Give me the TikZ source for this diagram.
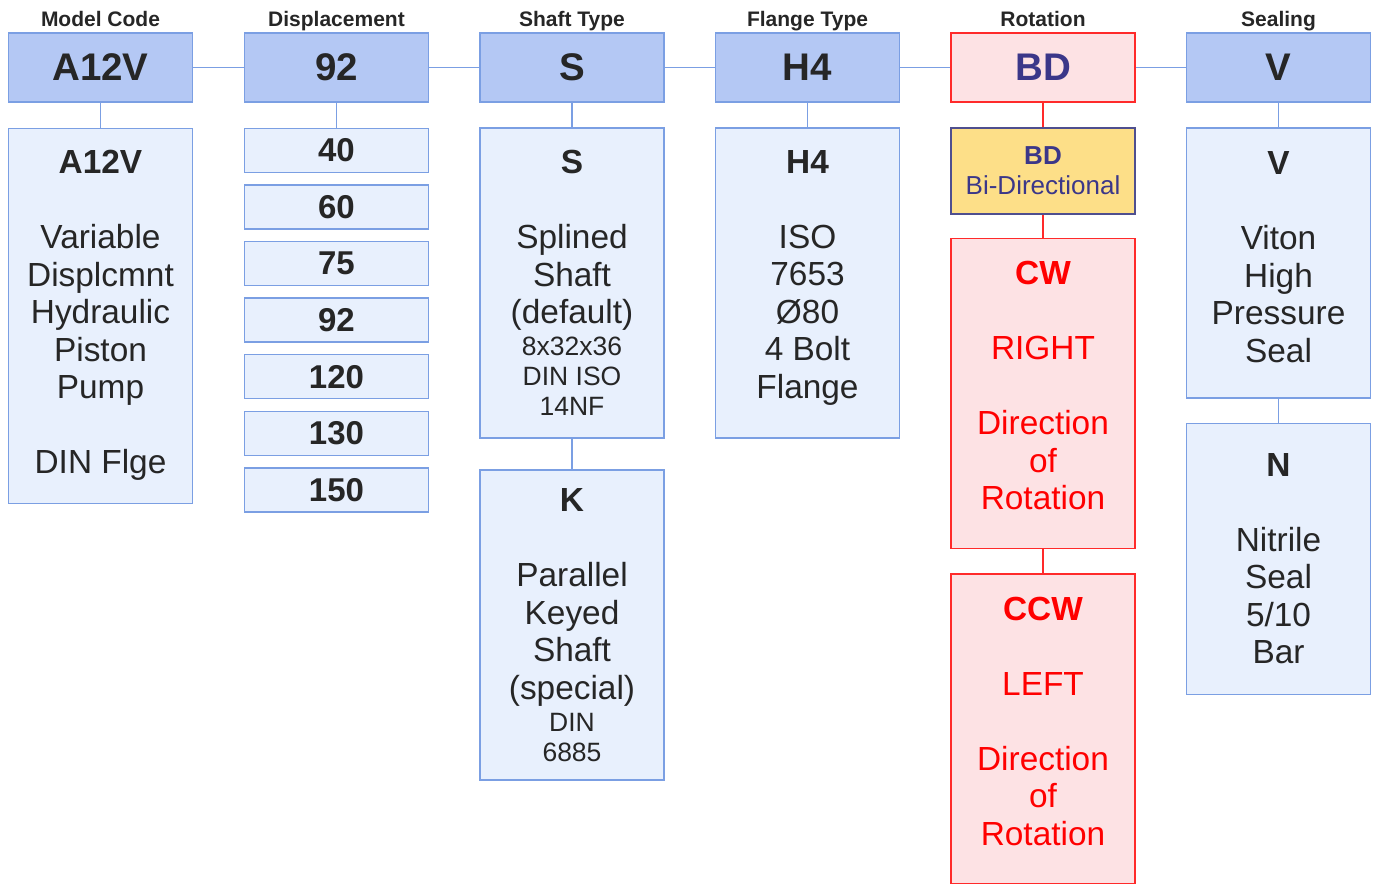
\documentclass[tikz,border=0pt]{standalone}
\usepackage{fontspec}
\setmainfont{Liberation Sans}
\definecolor{bblue}{HTML}{7B9FE3}
\definecolor{hfill}{HTML}{B4C8F4}
\definecolor{dfill}{HTML}{E8F0FD}
\definecolor{rline}{HTML}{FF2A2A}
\definecolor{rfill}{HTML}{FDE2E4}
\definecolor{rtext}{HTML}{FF0000}
\definecolor{tdark}{HTML}{262626}
\definecolor{bdblue}{HTML}{3B3789}
\definecolor{yfill}{HTML}{FDDF88}
\definecolor{yline}{HTML}{4F4F8F}
\newcommand{\sm}{\fontsize{26.5}{30}\selectfont}
\tikzset{
  hdr/.style={draw=bblue, fill=hfill, line width=1.5pt, minimum width=184pt, minimum height=69pt, inner sep=0pt, font=\fontsize{38.5}{44}\selectfont\bfseries, text=tdark},
  det/.style={draw=bblue, fill=dfill, line width=1.5pt, minimum width=184pt, inner sep=0pt, align=center, font=\fontsize{33.4}{37.5}\selectfont, text=tdark},
  num/.style={draw=bblue, fill=dfill, line width=1.5pt, minimum width=184pt, minimum height=44pt, inner sep=0pt, font=\fontsize{33}{37.5}\selectfont\bfseries, text=tdark},
  redbox/.style={det, draw=rline, fill=rfill, text=rtext},
  ybox/.style={draw=yline, fill=yfill, line width=1.5pt, minimum width=184pt, minimum height=86pt, inner sep=0pt, align=center, font=\fontsize{26}{30}\selectfont, text=bdblue},
  lab/.style={font=\fontsize{21}{24}\selectfont\bfseries, text=tdark, anchor=base, inner sep=0pt},
  conn/.style={draw=bblue, line width=1.5pt},
  rconn/.style={draw=rline, line width=1.5pt}
}
\begin{document}
\begin{tikzpicture}[x=1pt,y=-1pt]
\useasboundingbox (0,0) rectangle (1375,884);
% header labels
\node[lab] (l1) at (100.5,26) {Model Code};
\node[lab] (l2) at (336.5,26) {Displacement};
\node[lab] (l3) at (572,26) {Shaft Type};
\node[lab] (l4) at (807.5,26) {Flange Type};
\node[lab] (l5) at (1043,26) {Rotation};
\node[lab] (l6) at (1278.5,26) {Sealing};
% header boxes
\node[hdr] (h1) at (100.5,67.5) {A12V};
\node[hdr] (h2) at (336.5,67.5) {92};
\node[hdr] (h3) at (572,67.5) {S};
\node[hdr] (h4) at (807.5,67.5) {H4};
\node[hdr, draw=rline, fill=rfill, text=bdblue] (h5) at (1043,67.5) {BD};
\node[hdr] (h6) at (1278.5,67.5) {V};
% column 1
\node[det, minimum height=375pt] (d1) at (100.5,315.75) {{\bfseries A12V}\\[37.5pt]Variable\\Displcmnt\\Hydraulic\\Piston\\Pump\\[37.5pt]DIN Flge};
% column 2
\node[num] (n40) at (336.5,150.3) {40};
\node[num] (n60) at (336.5,206.9) {60};
\node[num] (n75) at (336.5,263.5) {75};
\node[num] (n92) at (336.5,320.1) {92};
\node[num] (n120) at (336.5,376.7) {120};
\node[num] (n130) at (336.5,433.3) {130};
\node[num] (n150) at (336.5,489.9) {150};
% column 3
\node[det, minimum height=310pt] (s) at (572,283) {{\bfseries S}\\[37.5pt]Splined\\Shaft\\(default)\\[-5.5pt]{\sm 8x32x36}\\[-7.5pt]{\sm DIN ISO}\\[-7.5pt]{\sm 14NF}};
\node[det, minimum height=310pt] (k) at (572,625) {{\bfseries K}\\[37.5pt]Parallel\\Keyed\\Shaft\\(special)\\[-5.5pt]{\sm DIN}\\[-7.5pt]{\sm 6885}};
% column 4
\node[det, minimum height=310pt, text depth=17pt] (f) at (807.5,283) {{\bfseries H4}\\[37.5pt]ISO\\7653\\Ø80\\4 Bolt\\Flange};
% column 5
\node[ybox] (bd) at (1043,171) {{\bfseries BD}\\Bi-Directional};
\node[redbox, minimum height=310pt, text depth=15pt] (cw) at (1043,393.3) {{\bfseries CW}\\[37.5pt]RIGHT\\[37.5pt]Direction\\of\\Rotation};
\node[redbox, minimum height=309.5pt, text depth=15pt] (ccw) at (1043,728.75) {{\bfseries CCW}\\[37.5pt]LEFT\\[37.5pt]Direction\\of\\Rotation};
% column 6
\node[det, minimum height=270pt, text depth=12pt] (v) at (1278.5,263.2) {{\bfseries V}\\[37.5pt]Viton\\High\\Pressure\\Seal};
\node[det, minimum height=271pt] (n) at (1278.5,558.8) {{\bfseries N}\\[37.5pt]Nitrile\\Seal\\5/10\\Bar};
% connectors
\draw[conn] (h1.east) -- (h2.west);
\draw[conn] (h2.east) -- (h3.west);
\draw[conn] (h3.east) -- (h4.west);
\draw[conn] (h4.east) -- (h5.west);
\draw[conn] (h5.east) -- (h6.west);
\draw[conn] (h1.south) -- (d1.north);
\draw[conn] (h2.south) -- (n40.north);
\draw[conn] (h3.south) -- (s.north);
\draw[conn] (s.south) -- (k.north);
\draw[conn] (h4.south) -- (f.north);
\draw[rconn] (h5.south) -- (bd.north);
\draw[rconn] (bd.south) -- (cw.north);
\draw[rconn] (cw.south) -- (ccw.north);
\draw[conn] (h6.south) -- (v.north);
\draw[conn] (v.south) -- (n.north);
\end{tikzpicture}
\end{document}
